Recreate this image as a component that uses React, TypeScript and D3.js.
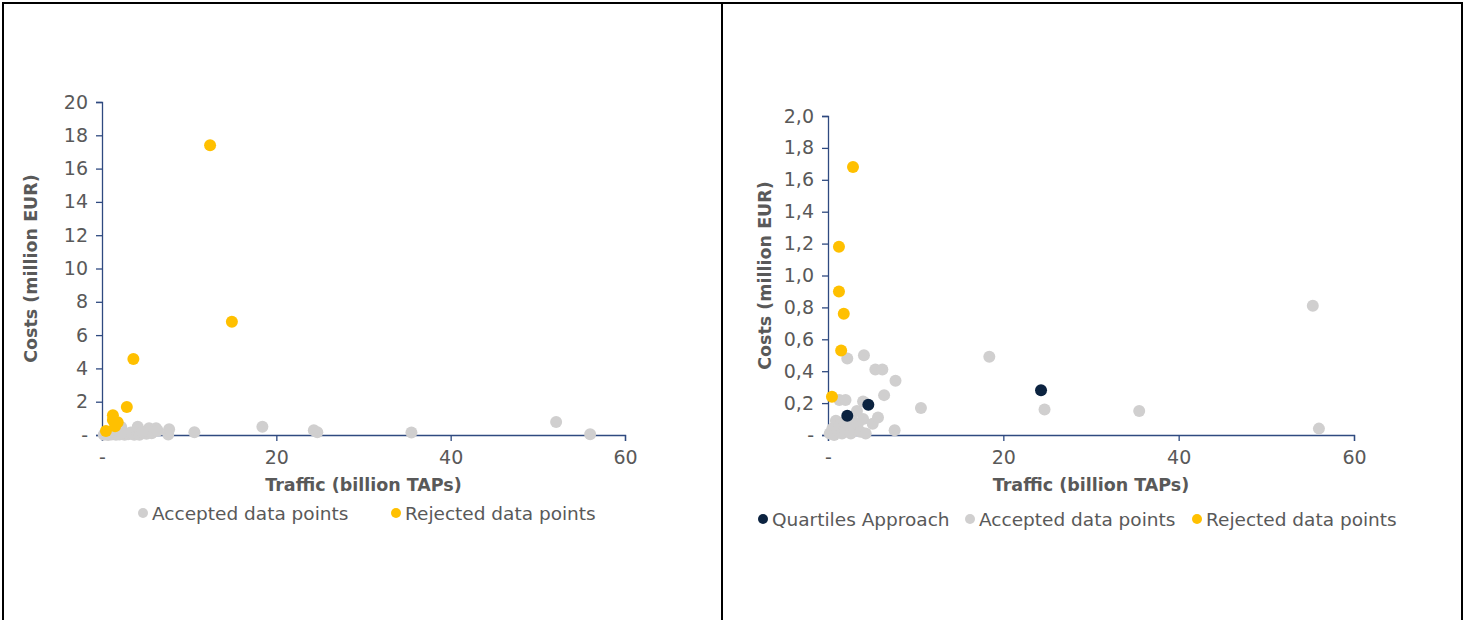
import React, { useEffect, useRef } from 'react';
import * as d3 from 'd3';

// [traffic (billion TAPs), costs (million EUR)]
const acceptedPoints: [number, number][] = [
  [0.2, 0.01], [0.5, 0.04], [0.7, 0.0], [0.9, 0.09], [1.1, 0.03], [1.3, 0.06],
  [1.6, 0.01], [1.8, 0.08], [2.0, 0.03], [2.3, 0.06], [2.6, 0.01], [2.8, 0.09],
  [3.0, 0.04], [3.4, 0.07], [3.7, 0.02], [4.0, 0.1],
  [1.3, 0.22], [2.0, 0.22], [2.2, 0.48], [3.3, 0.15], [4.0, 0.21], [4.1, 0.5],
  [4.3, 0.01], [5.1, 0.07], [5.4, 0.41], [5.7, 0.11], [6.2, 0.41], [6.4, 0.25],
  [7.6, 0.03], [7.7, 0.34], [10.6, 0.17], [18.4, 0.49], [24.7, 0.16],
  [35.5, 0.15], [56.0, 0.04]
];
// the far-right point sits a little differently in the two panels
const farPointLeft: [number, number][] = [[52.1, 0.78]];
const farPointRight: [number, number][] = [[55.3, 0.81]];
const quartilePoints: [number, number][] = [[2.2, 0.12], [4.6, 0.19], [24.3, 0.28]];
const rejectedSmall: [number, number][] = [
  [0.45, 0.24], [1.5, 0.53], [1.8, 0.76], [1.25, 0.9], [1.25, 1.18], [2.85, 1.68]
];
const rejectedLarge: [number, number][] = [[3.6, 4.56], [12.4, 17.4], [14.9, 6.8]];

const xTicks = [0, 20, 40, 60];
const yTicksLeft = d3.range(0, 21, 2);
const yTicksRight = d3.range(0, 11).map(d => d / 5);

const GREY = '#d0cfcf';
const YELLOW = '#ffc000';
const NAVY = '#0c2340';
const AXIS = '#2f4a80';
const TEXT = '#595959';
const FONT = '"DejaVu Sans", Verdana, sans-serif';

export default function App() {
  const svgRef = useRef<SVGSVGElement>(null);

  useEffect(() => {
    const svg = d3.select(svgRef.current);
    svg.selectAll('*').remove();

    // table cell borders
    const border = svg.append('g').attr('stroke', '#000').attr('stroke-width', 2);
    border.append('line').attr('x1', 2).attr('x2', 1463).attr('y1', 3).attr('y2', 3);
    [3, 722, 1462].forEach(x => {
      border.append('line').attr('x1', x).attr('x2', x).attr('y1', 2).attr('y2', 620);
    });

    const drawChart = (opts: {
      left: number; right: number; top: number; bottom: number;
      yMax: number; yTicks: number[]; fmt: (d: number) => string;
      yTitleX: number;
      series: { pts: [number, number][]; color: string }[];
      legend: { label: string; color: string; x: number }[];
      legendY: number;
    }) => {
      const x = d3.scaleLinear().domain([0, 60]).range([opts.left, opts.right]);
      const y = d3.scaleLinear().domain([0, opts.yMax]).range([opts.bottom, opts.top]);
      const g = svg.append('g');

      // y axis
      const yAxis = g.append('g')
        .attr('transform', `translate(${opts.left},0)`)
        .call(d3.axisLeft(y).tickValues(opts.yTicks).tickSize(6).tickPadding(8).tickFormat(opts.fmt as any));
      yAxis.select('.domain').attr('stroke', AXIS).attr('stroke-width', 1.3);
      yAxis.selectAll('.tick line').attr('stroke', AXIS).attr('stroke-width', 1.3);
      yAxis.selectAll('.tick text').attr('fill', TEXT).style('font-family', FONT).style('font-size', '19px');

      // x axis
      const xAxis = g.append('g')
        .attr('transform', `translate(0,${opts.bottom})`)
        .call(d3.axisBottom(x).tickValues(xTicks).tickSize(6).tickPadding(10)
          .tickFormat((d: any) => (d === 0 ? '-' : String(d))));
      xAxis.select('.domain').attr('stroke', AXIS).attr('stroke-width', 1.3);
      xAxis.selectAll('.tick line').attr('stroke', AXIS).attr('stroke-width', 1.3);
      xAxis.selectAll('.tick text').attr('fill', TEXT).style('font-family', FONT).style('font-size', '19px');

      // titles
      g.append('text')
        .attr('x', (opts.left + opts.right) / 2)
        .attr('y', opts.bottom + 56)
        .attr('text-anchor', 'middle')
        .attr('fill', TEXT)
        .style('font-family', FONT).style('font-size', '17.5px').style('font-weight', 'bold')
        .text('Traffic (billion TAPs)');

      g.append('text')
        .attr('transform', `translate(${opts.yTitleX},${(opts.top + opts.bottom) / 2}) rotate(-90)`)
        .attr('text-anchor', 'middle')
        .attr('fill', TEXT)
        .style('font-family', FONT).style('font-size', '17.5px').style('font-weight', 'bold')
        .text('Costs (million EUR)');

      // points
      opts.series.forEach(s => {
        g.append('g')
          .selectAll('circle')
          .data(s.pts)
          .enter()
          .append('circle')
          .attr('cx', d => x(d[0]))
          .attr('cy', d => y(Math.min(d[1], opts.yMax)))
          .attr('r', 6)
          .attr('fill', s.color);
      });

      // legend
      const lg = g.append('g');
      opts.legend.forEach(l => {
        lg.append('circle').attr('cx', l.x).attr('cy', opts.legendY).attr('r', 5).attr('fill', l.color);
        lg.append('text')
          .attr('x', l.x + 9)
          .attr('y', opts.legendY + 6.5)
          .attr('fill', TEXT)
          .style('font-family', FONT).style('font-size', '18.5px')
          .text(l.label);
      });
    };

    drawChart({
      left: 102, right: 625, top: 102, bottom: 435,
      yMax: 20, yTicks: yTicksLeft,
      fmt: d => (d === 0 ? '-' : String(d)),
      yTitleX: 37,
      series: [
        { pts: [...acceptedPoints, ...farPointLeft, ...quartilePoints], color: GREY },
        { pts: [...rejectedSmall, ...rejectedLarge], color: YELLOW }
      ],
      legend: [
        { label: 'Accepted data points', color: GREY, x: 143 },
        { label: 'Rejected data points', color: YELLOW, x: 396 }
      ],
      legendY: 513
    });

    drawChart({
      left: 828, right: 1354, top: 116, bottom: 435,
      yMax: 2, yTicks: yTicksRight,
      fmt: d => (d === 0 ? '-' : d.toFixed(1).replace('.', ',')),
      yTitleX: 771,
      series: [
        { pts: [...acceptedPoints, ...farPointRight], color: GREY },
        { pts: rejectedSmall, color: YELLOW },
        { pts: quartilePoints, color: NAVY }
      ],
      legend: [
        { label: 'Quartiles Approach', color: NAVY, x: 763 },
        { label: 'Accepted data points', color: GREY, x: 970 },
        { label: 'Rejected data points', color: YELLOW, x: 1197 }
      ],
      legendY: 519
    });
  }, []);

  return (
    <div style={{ position: 'absolute', left: 0, top: 0 }}>
      <svg ref={svgRef} width={1465} height={620} style={{ display: 'block', background: '#fff' }}></svg>
    </div>
  );
}
